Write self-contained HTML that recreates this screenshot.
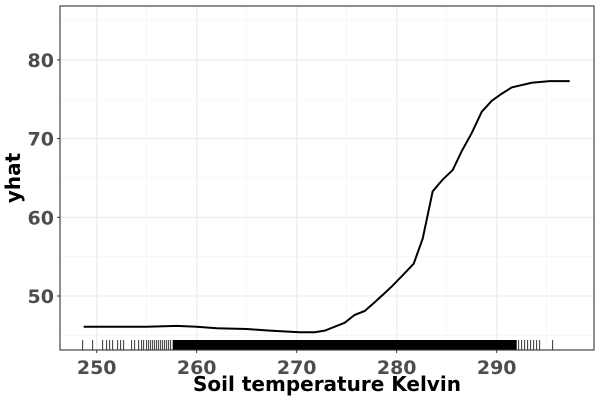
<!DOCTYPE html>
<html><head><meta charset="utf-8"><style>
body{margin:0;background:#fff}
svg{display:block;font-family:"DejaVu Sans","Liberation Sans",sans-serif}
</style></head><body>
<svg id="c" width="600" height="400"></svg>
<script>
const xTicks=[250,260,270,280,290];
const yTicks=[50,60,70,80];
const lineX=[248.7,252,255,258,260,262,265,267.3,270.3,271.8,272.8,274.8,275.8,276.8,277.8,279.5,280.8,281.7,282.6,283.6,284.6,285.6,286.5,287.5,288.5,289.5,290.5,291.5,292.5,293.5,295.3,297.3];
const lineY=[46.1,46.1,46.1,46.2,46.1,45.9,45.8,45.6,45.4,45.4,45.6,46.6,47.6,48.1,49.2,51.2,52.9,54.1,57.3,63.3,64.8,66,68.4,70.7,73.4,74.8,75.7,76.5,76.8,77.1,77.3,77.3];
const rugSparse=[248.6,249.6,250.6,251.0,251.3,251.6,252.1,252.4,252.7,253.5,253.8,254.2,254.5,254.7,255.0,255.2,255.4,255.6,255.8,256.0,256.2,256.4,256.6,256.8,257.0,257.2,257.4,292.2,292.5,292.8,293.1,293.4,293.7,294.0,294.3,295.6];
const rugDense=[257.6,292.0];
const X=v=>96.7+(v-250)*10, Y=v=>296-(v-50)*7.87;
const L=60,R=594,T=6,B=350;
const s=document.getElementById('c'),NS='http://www.w3.org/2000/svg';
function el(t,a,p){const e=document.createElementNS(NS,t);for(const k in a)e.setAttribute(k,a[k]);(p||s).appendChild(e);return e;}
const g=el('g',{});


[245,255,265,275,285,295].forEach(v=>{if(X(v)>L&&X(v)<R)el('line',{x1:X(v),x2:X(v),y1:T,y2:B,stroke:'#f3f3f3','stroke-width':0.6},g)});
[45,55,65,75,85].forEach(v=>el('line',{x1:L,x2:R,y1:Y(v),y2:Y(v),stroke:'#f3f3f3','stroke-width':0.6},g));
xTicks.forEach(v=>el('line',{x1:X(v),x2:X(v),y1:T,y2:B,stroke:'#ebebeb','stroke-width':1.1},g));
yTicks.forEach(v=>el('line',{x1:L,x2:R,y1:Y(v),y2:Y(v),stroke:'#ebebeb','stroke-width':1.1},g));
const rg=el('g',{stroke:'#000','stroke-width':0.8});


rugSparse.forEach(v=>el('line',{x1:X(v),x2:X(v),y1:340,y2:B},rg));
const band=el('rect',{x:X(rugDense[0]),y:340,width:X(rugDense[1])-X(rugDense[0]),height:10,fill:'#000'});


const ln=el('polyline',{points:lineX.map((v,i)=>X(v)+','+Y(lineY[i])).join(' '),fill:'none',stroke:'#000','stroke-width':2});


const fr=el('rect',{x:L,y:T,width:R-L,height:B-T,fill:'none',stroke:'#333','stroke-width':1.1});


xTicks.forEach(v=>{el('line',{x1:X(v),x2:X(v),y1:B,y2:B+3,stroke:'#333'});
const t=el('text',{x:X(v),y:374,'text-anchor':'middle','font-size':19,'font-weight':'bold',fill:'#4d4d4d'});t.textContent=v;

});
yTicks.forEach(v=>{el('line',{x1:L-3,x2:L,y1:Y(v),y2:Y(v),stroke:'#333'});
const t=el('text',{x:54,y:Y(v)+7,'text-anchor':'end','font-size':19,'font-weight':'bold',fill:'#4d4d4d'});t.textContent=v;

});
const xt=el('text',{x:327,y:391,'text-anchor':'middle','font-size':20,'font-weight':'bold',fill:'#000'});xt.textContent='Soil temperature Kelvin';


const yt=el('text',{x:20,y:178,'text-anchor':'middle','font-size':20,'font-weight':'bold',fill:'#000',transform:'rotate(-90 20 178)'});yt.textContent='yhat';


</script>
</body></html>
